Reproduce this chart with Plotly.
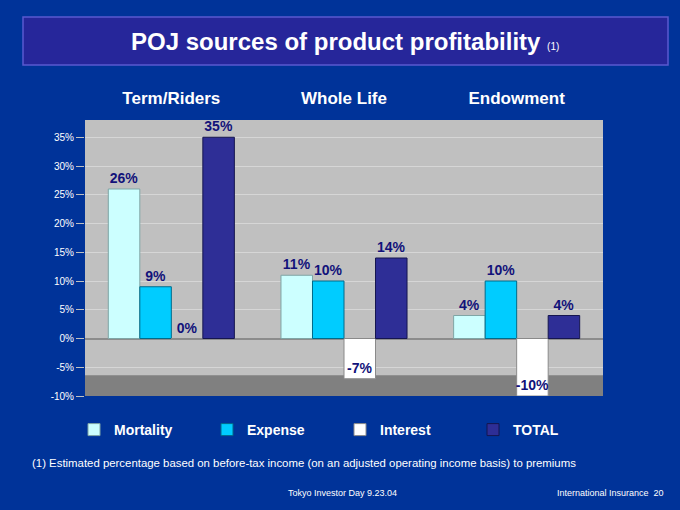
import plotly.graph_objects as go

# --- data ---
products = ["Term/Riders", "Whole Life", "Endowment"]
mortality = [26, 11, 4]
expense = [9, 10, 10]
interest = [0, -7, -10]
total = [35, 14, 4]

y_ticks = [-10, -5, 0, 5, 10, 15, 20, 25, 30, 35]
y_tick_text = [f"{v}%" for v in y_ticks]

BG = "#003399"
WALL = "#C0C0C0"
NAVY = "#12127A"
FONT = "Arial, Liberation Sans, sans-serif"

# plot area in pixels (680x510 canvas)
L, R, T, B = 85, 603, 120, 396


def px(x):
    return (x - L) / (R - L)


def py(y):
    return (B - y) / (B - T)


fig = go.Figure()

series = [
    ("Mortality", mortality, "#CCFFFF", "#7FA5A5"),
    ("Expense", expense, "#00CCFF", "#006B8A"),
    ("Interest", interest, "#FFFFFF", "#8A8A8A"),
    ("TOTAL", total, "#2E2E96", "#15154F"),
]
for name, vals, col, edge in series:
    # negative bars carry their label at the bottom end, inside the bar
    pos = ["inside" if v < 0 else "outside" for v in vals]
    fig.add_bar(
        x=products, y=vals, name=name,
        marker=dict(color=col, line=dict(color=edge, width=1)),
        text=[f"{v}%" for v in vals], textposition=pos, textangle=0,
        insidetextanchor="end", constraintext="none",
        textfont=dict(family=FONT, size=14, color=NAVY, weight="bold"),
        cliponaxis=False,
    )

# title bar
fig.add_shape(type="rect", xref="paper", yref="paper",
              x0=px(23), x1=px(668), y0=py(65), y1=py(17),
              fillcolor="#26269A", line=dict(color="#5A5ACF", width=1.5),
              layer="below")
fig.add_annotation(xref="paper", yref="paper", x=px(345), y=py(41), yanchor="middle",
                   text="POJ sources of product profitability "
                        "<span style='font-size:10px;font-weight:normal'>(1)</span>",
                   showarrow=False, font=dict(family=FONT, size=24, color="white", weight="bold"))

# floor of the 3D chart
fig.add_shape(type="rect", xref="paper", yref="y", x0=0, x1=1, y0=-10, y1=-6.4,
              fillcolor="#808080", line_width=0, layer="below")

# footnotes
fig.add_annotation(xref="paper", yref="paper", x=px(30), y=py(463),
                   xanchor="left", yanchor="middle",
                   text="(1) Estimated percentage based on before-tax income "
                        "(on an adjusted operating income basis) to premiums",
                   showarrow=False, font=dict(family=FONT, size=11.4, color="white"))
fig.add_annotation(xref="paper", yref="paper", x=px(342), y=py(493), yanchor="middle",
                   text="Tokyo Investor Day 9.23.04", showarrow=False,
                   font=dict(family="Liberation Sans Narrow, Arial Narrow, sans-serif", size=9, color="white"))
fig.add_annotation(xref="paper", yref="paper", x=px(666), y=py(493),
                   xanchor="right", yanchor="middle",
                   text="International Insurance&nbsp;&nbsp;20", showarrow=False,
                   font=dict(family=FONT, size=9, color="white"))

fig.update_layout(
    width=680, height=510,
    paper_bgcolor=BG, plot_bgcolor=WALL,
    margin=dict(l=L, r=680 - R, t=T, b=510 - B),
    barmode="group", bargap=0.27, bargroupgap=0,
    font=dict(family=FONT, color="white"),
    showlegend=True,
    legend=dict(orientation="h", x=px(74), xanchor="left", y=py(430), yanchor="middle",
                entrywidth=88, entrywidthmode="pixels", itemwidth=30,
                font=dict(family=FONT, size=14, color="white", weight="bold"),
                bgcolor="rgba(0,0,0,0)"),
)
fig.update_xaxes(side="top", showgrid=False, ticks="", ticklabelstandoff=12,
                 tickfont=dict(family=FONT, size=17, color="white", weight="bold"),
                 showline=False)
fig.update_yaxes(range=[-10, 38], tickvals=y_ticks, ticktext=y_tick_text,
                 tickfont=dict(family=FONT, size=10, color="white"),
                 showgrid=True, gridcolor="#D6D6D6", gridwidth=1,
                 zeroline=True, zerolinecolor="#8C8C8C", zerolinewidth=1.5,
                 ticks="outside", ticklen=8, tickcolor="#C0C0C0")

fig.write_html("out.html", config={"displayModeBar": False},
               post_script="document.body.style.margin='0';"
                           "document.body.style.background='#003399';"
                           "document.body.style.overflow='hidden';")
